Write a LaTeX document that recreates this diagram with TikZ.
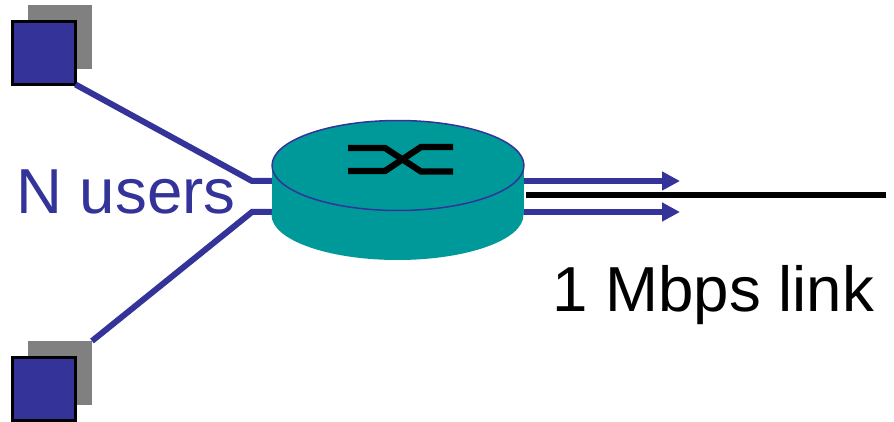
\documentclass[tikz,border=0pt]{standalone}
\usepackage{fontspec}
\setmainfont{Liberation Sans}
\usetikzlibrary{arrows.meta,shapes.geometric}
\definecolor{linkblue}{HTML}{333399}
\definecolor{diskteal}{HTML}{009999}
\definecolor{shadowgray}{HTML}{808080}

\begin{document}
\begin{tikzpicture}[%
    x=0.02cm,
    y=-0.02cm,
    >={Triangle[length=0.36cm,width=0.36cm]},
    user/.style={rectangle,draw=black,line width=0.06cm,fill=linkblue,minimum size=1.26cm,inner sep=0,outer sep=0},
    shadow/.style={rectangle,fill=shadowgray,minimum size=1.28cm,inner sep=0,outer sep=0},
    disk/.style={ellipse,fill=diskteal,minimum width=5.04cm,minimum height=1.8cm,inner sep=0},
    wire/.style={linkblue,line width=0.12cm},
    swline/.style={black,line width=0.125cm},
    caption/.style={font=\fontsize{36.2pt}{40pt}\selectfont,inner sep=0,anchor=base west}
    ]

    \useasboundingbox (0,0) rectangle (894,422);

    \node[shadow] (shadow1) at (60,37) {};
    \node[user] (user1) at (44,53) {};
    \node[shadow] (shadow2) at (60,373) {};
    \node[user] (user2) at (44,389) {};

    \coordinate (in1) at (252,181);
    \coordinate (in2) at (252,212);
    \coordinate (sw1) at (272,181);
    \coordinate (sw2) at (272,212);
    \coordinate (out1) at (523,181);
    \coordinate (out2) at (523,212);
    \coordinate (head1) at (680,181);
    \coordinate (head2) at (680,212);
    \coordinate (linkstart) at (526,195);
    \coordinate (linkend) at (886,195);

    \draw[wire] (user1.south east) -- (in1) -- (sw1);
    \draw[wire] (shadow2.north east) -- (in2) -- (sw2);
    \draw[wire,->] (out1) -- (head1);
    \draw[wire,->] (out2) -- (head2);
    \draw[black,line width=0.12cm] (linkstart) -- (linkend);

    \node[disk] (base) at (397.5,215) {};
    \fill[diskteal] (271.5,165) rectangle (523.5,215);
    \node[disk,draw=linkblue,line width=0.03cm] (top) at (398,165.5) {};

    \draw[swline] (348,148) -- (385,148) -- (421,171.5) -- (453,171.5);
    \draw[swline] (348,171) -- (385,171) -- (421,147) -- (453,147);

    \node[caption,text=linkblue] (users) at (16,214) {N users};
    \node[caption,text=black] (link) at (552,312) {1 Mbps link};
\end{tikzpicture}
\end{document}
